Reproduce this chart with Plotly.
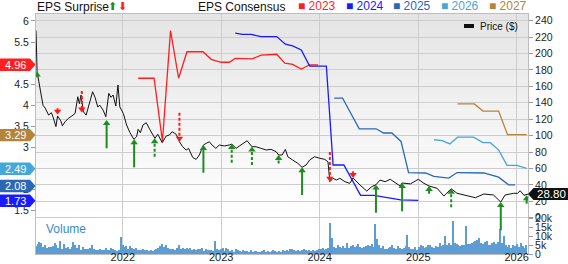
import plotly.graph_objects as go
import pandas as pd

# ---------------- data ----------------
price_dates = ["2021-02-13","2021-02-17","2021-03-01","2021-03-11","2021-03-19","2021-03-26","2021-04-01","2021-04-11","2021-04-17","2021-04-28",
               "2021-05-04","2021-05-16","2021-05-22","2021-06-01","2021-06-13","2021-06-26","2021-07-08","2021-07-18","2021-07-24","2021-07-30",
               "2021-08-08","2021-08-18","2021-08-30","2021-09-11","2021-09-20","2021-09-30","2021-10-08","2021-10-20","2021-10-30","2021-11-10",
               "2021-11-18","2021-11-26","2021-12-06","2021-12-14","2021-12-21","2022-01-03","2022-01-15","2022-01-27","2022-02-11","2022-02-21",
               "2022-02-27","2022-03-07","2022-03-17","2022-03-29","2022-04-11","2022-04-25","2022-04-30","2022-05-11","2022-05-27","2022-06-11",
               "2022-06-23","2022-07-03","2022-07-18","2022-07-30","2022-08-11","2022-08-24","2022-09-02","2022-09-17","2022-09-30","2022-10-12",
               "2022-10-27","2022-11-06","2022-11-18","2022-11-28","2022-12-12","2022-12-25","2023-01-12","2023-01-31","2023-02-09","2023-02-25",
               "2023-03-15","2023-04-07","2023-04-25","2023-05-10","2023-05-29","2023-06-17","2023-07-05","2023-07-24","2023-08-02","2023-08-15",
               "2023-08-27","2023-09-05","2023-09-23","2023-10-12","2023-10-28","2023-11-12","2023-11-25","2023-12-13","2024-01-02","2024-01-20",
               "2024-02-01","2024-02-08","2024-02-20","2024-03-03","2024-03-16","2024-04-04","2024-04-22","2024-05-04","2024-05-30","2024-06-24",
               "2024-07-12","2024-07-28","2024-08-12","2024-08-31","2024-09-19","2024-10-08","2024-10-26","2024-11-02","2024-12-03","2025-01-01",
               "2025-01-22","2025-02-10","2025-03-12","2025-04-06","2025-05-03","2025-05-25","2025-06-25","2025-08-01","2025-09-01","2025-10-07",
               "2025-11-03","2025-11-19","2025-12-20","2026-01-04","2026-01-14","2026-01-28","2026-02-12"]
price_values = [228, 178, 155.6, 137, 133.6, 129, 125, 128, 123, 111,
                124, 118, 112, 117, 121, 124, 127, 147.4, 139, 149.5,
                129, 125, 141, 153.5, 146.7, 135, 137, 131, 123, 151.5,
                146.7, 149.5, 136, 161.7, 135, 127, 113, 104, 95.5, 98.7,
                107.7, 103.6, 113, 115.7, 107.7, 100.8, 96.7, 101.6, 91.4, 99.5,
                100.8, 104.8, 101.6, 92.6, 86.5, 82.5, 84.5, 73.6, 71.1, 76.4,
                88.6, 90.6, 92.6, 88.6, 84.5, 88.6, 87.4, 88.6, 89.8, 84.5,
                88.6, 93.8, 86.5, 86.5, 84.5, 82.5, 83.3, 80.4, 76.4, 76.4,
                83.3, 74.3, 70.3, 66.3, 61.4, 64.2, 70.3, 74.3, 72.4, 71.1,
                68.2, 43.9, 48, 45.9, 48, 43.9, 41.9, 48.4, 39.8, 32.5,
                37.8, 40.2, 45.9, 43.9, 46.8, 42.6, 38.6, 42.3, 41.2, 46.8,
                41.9, 38.6, 35.8, 26.4, 35.3, 29.7, 27.7, 24.4, 28.9, 27.7,
                19.1, 27.7, 29.7, 29.7, 32.9, 27.3, 28.8]

cons_2023_dates = ["2022-02-27","2022-04-27","2022-05-28","2022-06-27","2022-07-27","2022-08-27","2022-10-25","2022-11-25","2023-01-01",
                   "2023-01-31","2023-02-22","2023-04-26","2023-05-29","2023-07-26","2023-08-25","2023-09-23","2023-10-25","2023-11-25","2023-12-26"]
cons_2023 = [4.64, 4.64, 3.14, 5.77, 4.64, 5.27, 5.27, 5.09, 5.02, 5.02, 5.11, 5.10, 5.19, 5.21, 5.00, 4.97, 4.86, 4.96, 4.96]

cons_2024_dates = ["2023-02-22","2023-03-21","2023-04-22","2023-05-29","2023-07-26","2023-08-27","2023-09-23","2023-10-25","2023-11-25",
                   "2024-01-26","2024-02-20","2024-03-31","2024-06-01","2024-07-21","2024-10-28","2025-01-01"]
cons_2024 = [5.71, 5.68, 5.68, 5.63, 5.63, 5.45, 5.41, 5.31, 4.93, 4.93, 2.58, 2.58, 1.86, 1.86, 1.75, 1.74]

cons_2025_dates = ["2024-02-24","2024-03-26","2024-05-27","2024-07-29","2024-08-25","2024-09-25","2024-10-29","2024-11-26","2025-01-28",
                   "2025-02-28","2025-04-24","2025-05-25","2025-09-01","2025-10-26","2025-12-02","2025-12-26"]
cons_2025 = [4.17, 4.17, 3.44, 3.44, 3.34, 3.34, 3.14, 2.40, 2.39, 2.31, 2.27, 2.40, 2.39, 2.29, 2.11, 2.11]

cons_2026_dates = ["2025-02-28","2025-03-31","2025-04-28","2025-05-27","2025-07-25","2025-08-29","2025-09-25","2025-10-26","2025-11-26",
                   "2026-01-02","2026-02-07"]
cons_2026 = [3.18, 3.16, 3.08, 3.24, 3.24, 3.11, 3.11, 2.94, 2.57, 2.57, 2.50]

cons_2027_dates = ["2025-05-27","2025-07-28","2025-08-29","2025-10-26","2025-11-28","2026-02-07"]
cons_2027 = [4.03, 4.03, 3.86, 3.86, 3.30, 3.30]

consensus_years = ["2023", "2024", "2025", "2026", "2027"]
consensus_colors = ["#ff1f1f", "#1a1aff", "#2a68b6", "#45a6da", "#b3843a"]
consensus_last = [4.96, 1.73, 2.08, 2.49, 3.29]

surprise_dates = ["2021-02-17","2021-05-04","2021-08-02","2021-11-02","2022-02-12","2022-04-29","2022-07-30","2022-10-27",
                  "2023-02-09","2023-04-25","2023-08-02","2023-10-28","2024-02-08","2024-05-04","2024-07-28","2024-11-02",
                  "2025-02-10","2025-05-03","2025-11-03","2026-02-07"]
surprise_tip = [178, 125.7, 128.2, 119, 95.5, 96.7, 92.6, 88.6, 89.8, 86.5, 76.4, 61.4, 43.9, 48.4, 40.2, 42.3, 38.6, 35.3, 19.1, 27.3]
surprise_tail = [171, 133.3, 154.4, 84.6, 61.4, 74.3, 127.9, 54.8, 67, 64.2, 66, 27.7, 80, 56.5, 6.1, 7.8, 29.2, 12.7, -15.4, 17.1]
surprise_dashed = [False, False, True, False, False, True, True, False, True, True, True, False, True, False, False, False,
                   False, True, False, False]

vol_2021 = [4.5,5.5,7.0,6.0,4.2,4.8,3.5,4.0,3.8,4.4,6.2,5.0,3.4,7.5,3.0,5.8,3.6,4.2,2.8,3.8,6.8,4.8,3.2,5.0,2.4,4.0,2.8,
            3.0,2.6,3.2,5.2,3.0,2.4,2.2,2.9,2.4,2.3,3.2,2.0,2.2,3.4,2.6,2.0,1.6,2.3,9.8]
vol_2022 = [5.0,4.2,4.5,3.0,4.6,3.2,2.8,3.6,2.5,2.2,2.0,3.0,2.4,2.0,1.8,2.2,1.6,2.0,3.0,3.6,4.4,5.6,3.8,4.8,3.4,2.8,
            3.0,2.6,2.2,3.5,5.0,3.0,3.4,2.8,3.6,2.6,3.2,2.2,2.8,2.4,3.0,2.6,3.4,1.8,2.6,2.2,2.0,2.4,1.8,7.5,2.6,2.0]
vol_2023 = [2.6,3.4,1.8,3.4,2.6,1.6,2.2,1.4,2.8,2.0,1.6,1.4,2.4,1.8,1.6,1.4,2.0,1.2,1.6,1.8,1.4,1.2,1.6,2.2,1.4,1.8,
            1.2,1.6,2.4,1.8,1.4,1.6,1.2,2.0,1.6,2.2,1.8,3.0,2.6,2.2,1.8,2.4,1.6,2.0,2.6,2.0,1.8,2.2,1.6,2.2,1.8,2.4]
vol_2024 = [3.0,2.6,3.2,2.4,2.8,3.2,17.5,9.0,4.0,3.6,5.0,4.2,3.2,4.6,3.6,6.0,3.4,4.4,5.0,3.8,4.6,5.4,4.0,3.4,3.8,4.4,
            5.0,4.6,5.8,4.2,17.0,8.6,4.8,3.6,4.4,3.0,2.8,3.6,4.0,5.0,3.2,2.6,4.4,3.6,2.8,3.4,4.6,10.9,3.8,2.6,3.0,4.2]
vol_2025 = [2.4,4.0,5.0,4.4,3.2,3.8,4.8,5.0,4.2,3.6,4.4,4.2,6.0,4.6,5.2,10.0,4.8,6.4,4.8,18.4,6.0,5.4,4.8,4.6,5.2,4.8,
            16.0,5.6,5.4,6.2,7.0,7.6,8.0,9.0,6.0,5.8,6.6,7.4,5.2,4.8,6.2,7.0,5.6,6.8,14.0,6.0,10.3,5.0,4.2,4.8,3.4,5.2]
vol_2026 = [4.4,5.6,3.8,6.2,4.4,3.6,5.0]
volume_start = "2021-02-12"

year_ticks = ["2022-01-01", "2023-01-01", "2024-01-01", "2025-01-01", "2026-01-01"]
year_labels = ["2022", "2023", "2024", "2025", "2026"]
eps_ticks = [1.5, 2, 2.5, 3, 3.5, 4, 4.5, 5, 5.5, 6]
price_ticks = [0, 20, 40, 60, 80, 100, 120, 140, 160, 180, 200, 220, 240]
volume_ticks = [0, 5, 10, 15, 20]
volume_labels = ["0", "5k", "10k", "15k", "20k"]
last_price = 28.80

# ---------------- layout constants ----------------
W, H = 568, 264
L, R, T, B = 36, 40, 14, 10
PW, PH = W - L - R, H - T - B
EPS_RANGE = [0.466, 6.166]
PRICE_RANGE = [-44.2, 248.2]
VOL_RANGE = [0, 135.2]
X_RANGE = ["2021-02-13", "2026-02-12"]
FONT = "Liberation Sans, Arial, sans-serif"
GREEN = "#1f8c1f"
RED = "#ff1a1a"
GRID = "#cdcdcd"


def px2x(px):
    return (px - L) / PW


def px2y(py):
    return (T + PH - py) / PH


eps_per_px = (EPS_RANGE[1] - EPS_RANGE[0]) / PH
price_per_px = (PRICE_RANGE[1] - PRICE_RANGE[0]) / PH

fig = go.Figure()

# volume bars
vol_all = vol_2021 + vol_2022 + vol_2023 + vol_2024 + vol_2025 + vol_2026
vol_dates = pd.date_range(volume_start, periods=len(vol_all), freq="7D")
fig.add_trace(go.Bar(x=vol_dates, y=vol_all, yaxis="y2", width=4 * 86400000,
                     marker=dict(color="#5d9dd4", line=dict(width=0)), showlegend=False, hoverinfo="skip"))

# consensus lines
cons_dates = [cons_2023_dates, cons_2024_dates, cons_2025_dates, cons_2026_dates, cons_2027_dates]
cons_vals = [cons_2023, cons_2024, cons_2025, cons_2026, cons_2027]
for d, v, c, name in zip(cons_dates, cons_vals, consensus_colors, consensus_years):
    fig.add_trace(go.Scatter(x=d, y=v, mode="lines", yaxis="y", name=name,
                             line=dict(color=c, width=1.3), showlegend=False, hoverinfo="skip"))

# price
fig.add_trace(go.Scatter(x=price_dates, y=price_values, mode="lines", yaxis="y3", name="Price ($)",
                         line=dict(color="#111111", width=1), showlegend=False, hoverinfo="skip"))

# surprise arrows
head_size = 6.5
head_r = head_size / 2
for up in (True, False):
    for dashed in (False, True):
        xs, ys = [], []
        for d, tip, tail, ds in zip(surprise_dates, surprise_tip, surprise_tail, surprise_dashed):
            if (tip > tail) != up or ds != dashed:
                continue
            sgn = 1 if up else -1
            xs += [d, d, None]
            ys += [tail, tip - sgn * head_r * price_per_px, None]
        if xs:
            fig.add_trace(go.Scatter(x=xs, y=ys, mode="lines", yaxis="y3",
                                     line=dict(color=GREEN if up else RED, width=2,
                                               dash="3px,2px" if dashed else "solid"),
                                     showlegend=False, hoverinfo="skip"))
    hx, hy = [], []
    for d, tip, tail in zip(surprise_dates, surprise_tip, surprise_tail):
        if (tip > tail) != up:
            continue
        sgn = 1 if up else -1
        hx.append(d)
        hy.append(tip - sgn * head_r * price_per_px)
    fig.add_trace(go.Scatter(x=hx, y=hy, mode="markers", yaxis="y3",
                             marker=dict(symbol="triangle-up" if up else "triangle-down", size=head_size,
                                         color=GREEN if up else RED, line=dict(width=0)),
                             showlegend=False, hoverinfo="skip"))

shapes = []
annotations = []

# background gradient in price panel
n_bands = 34
top_py, bot_py = T, 217.7
for i in range(n_bands):
    y0 = top_py + (bot_py - top_py) * i / n_bands
    y1 = top_py + (bot_py - top_py) * (i + 1) / n_bands
    g = int(round(229 + (255 - 229) * (i / (n_bands - 1))))
    shapes.append(dict(type="rect", xref="paper", yref="paper", x0=0, x1=1, y0=px2y(y1), y1=px2y(y0),
                       fillcolor=f"rgb({g},{g},{g})", line=dict(width=0), layer="below"))

# left EPS labels (pentagon boxes)
hh = 6.2 * eps_per_px
for v, c in zip(consensus_last, consensus_colors):
    path = (f"M {px2x(0)},{v + hh} L {px2x(30)},{v + hh} L {px2x(35.5)},{v} "
            f"L {px2x(30)},{v - hh} L {px2x(0)},{v - hh} Z")
    shapes.append(dict(type="path", xref="paper", yref="y", path=path, fillcolor=c,
                       line=dict(width=0), layer="above"))
    annotations.append(dict(x=px2x(15), y=v, xref="paper", yref="y", text=f"{v:.2f}", showarrow=False,
                            xanchor="center", yanchor="middle", font=dict(family=FONT, size=11, color="white")))

# right price label
ph = 6 * price_per_px
path = (f"M {px2x(528)},{last_price} L {px2x(533.5)},{last_price + ph} L {px2x(569)},{last_price + ph} "
        f"L {px2x(569)},{last_price - ph} L {px2x(533.5)},{last_price - ph} Z")
shapes.append(dict(type="path", xref="paper", yref="y3", path=path, fillcolor="#111111",
                   line=dict(width=0), layer="above"))
annotations.append(dict(x=px2x(551), y=last_price, xref="paper", yref="y3", text=f"{last_price:.2f}",
                        showarrow=False, xanchor="center", yanchor="middle",
                        font=dict(family=FONT, size=11.5, color="white")))

# price legend inside plot
shapes.append(dict(type="rect", xref="paper", yref="paper", x0=px2x(464), x1=px2x(474),
                   y0=px2y(28), y1=px2y(24), fillcolor="#111111", line=dict(width=0), layer="above"))
annotations.append(dict(x=px2x(478), y=px2y(26), xref="paper", yref="paper", text="Price ($)", showarrow=False,
                        xanchor="left", yanchor="middle", font=dict(family=FONT, size=10, color="#111111")))

# header texts
annotations.append(dict(x=px2x(35), y=px2y(6.5), xref="paper", yref="paper", text="EPS Surprise", showarrow=False,
                        xanchor="left", yanchor="middle", font=dict(family=FONT, size=12, color="#111111")))
annotations.append(dict(x=px2x(112), y=px2y(6.5), xref="paper", yref="paper", text="⬆", showarrow=False,
                        xanchor="center", yanchor="middle", font=dict(family="DejaVu Sans", size=11, color=GREEN)))
annotations.append(dict(x=px2x(122), y=px2y(6.5), xref="paper", yref="paper", text="⬇", showarrow=False,
                        xanchor="center", yanchor="middle", font=dict(family="DejaVu Sans", size=11, color=RED)))
annotations.append(dict(x=px2x(195.5), y=px2y(6.5), xref="paper", yref="paper", text="EPS Consensus",
                        showarrow=False, xanchor="left", yanchor="middle",
                        font=dict(family=FONT, size=12, color="#111111")))
legend_px = [296, 344, 391, 439, 487]
for lx, name, c in zip(legend_px, consensus_years, consensus_colors):
    annotations.append(dict(x=px2x(lx), y=px2y(5.5), xref="paper", yref="paper", text=f"■ {name}",
                            showarrow=False, xanchor="left", yanchor="middle",
                            font=dict(family=FONT, size=12, color=c)))

# Volume label
annotations.append(dict(x=px2x(44), y=px2y(229), xref="paper", yref="paper", text="Volume", showarrow=False,
                        xanchor="left", yanchor="middle", font=dict(family=FONT, size=12, color="#3a8ad0")))

tickfont = dict(family=FONT, size=10.5, color="#222222")
fig.update_layout(
    template="none",
    width=W, height=H,
    margin=dict(l=L, r=R, t=T, b=B, pad=0, autoexpand=False),
    paper_bgcolor="white", plot_bgcolor="white",
    showlegend=False, hovermode=False,
    bargap=0,
    xaxis=dict(type="date", range=X_RANGE, tickvals=year_ticks, ticktext=year_labels, showgrid=True,
               gridcolor=GRID, gridwidth=1, ticks="", ticklen=0, ticklabelstandoff=-7,
               showline=True, mirror=True, linecolor="#bdbdbd",
               tickfont=dict(family=FONT, size=11, color="#222222"), zeroline=False, fixedrange=True,
               automargin=False),
    yaxis=dict(range=EPS_RANGE, tickvals=eps_ticks, showgrid=False, zeroline=False, ticks="outside",
               ticklen=4, tickcolor="#9a9a9a", showline=True, linecolor="#bdbdbd", tickfont=tickfont,
               side="left", automargin=False),
    yaxis2=dict(range=VOL_RANGE, overlaying="y", side="right", tickvals=volume_ticks, ticktext=volume_labels,
                showgrid=False, zeroline=False, ticks="outside", ticklen=4, tickcolor="#9a9a9a",
                showline=False, tickfont=tickfont, automargin=False),
    yaxis3=dict(range=PRICE_RANGE, overlaying="y", side="right", tickvals=price_ticks, showgrid=True,
                gridcolor=GRID, gridwidth=1, zeroline=False, ticks="outside", ticklen=4, tickcolor="#9a9a9a",
                showline=True, linecolor="#bdbdbd", tickfont=tickfont, automargin=False),
    shapes=shapes,
    annotations=annotations,
)

fig.write_html("out.html")
